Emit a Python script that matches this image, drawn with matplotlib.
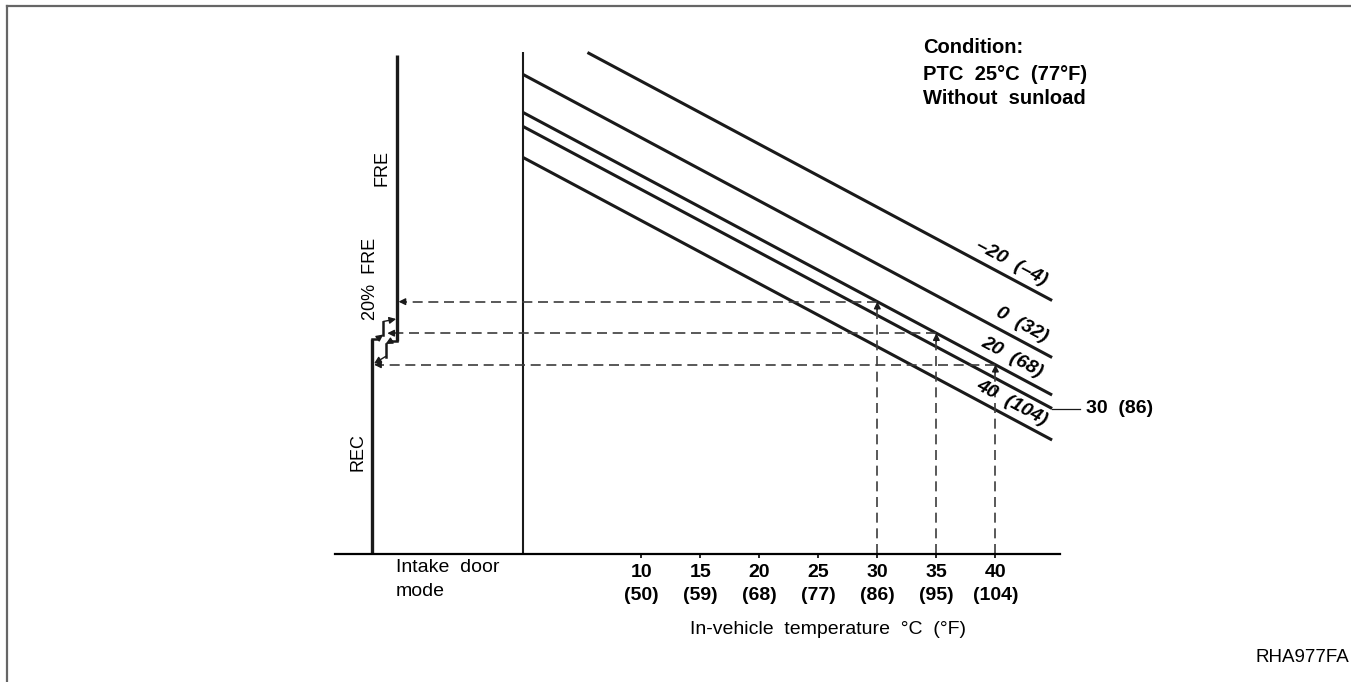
import numpy as np
import matplotlib
matplotlib.use("Agg")
import matplotlib.pyplot as plt
from matplotlib.lines import Line2D

plt.rcParams['font.family'] = ['Liberation Sans', 'DejaVu Sans']

# in-vehicle temperature ticks
tick_c = [10, 15, 20, 25, 30, 35, 40]
tick_f = [50, 59, 68, 77, 86, 95, 104]

# ambient temperature lines (start/end)
ambient_c = [-20, 0, 20, 30, 40]
ambient_f = [-4, 32, 68, 86, 104]
line_x0 = [5.45, 0, 0, 0, 0]
line_y0 = [100.3, 95.9, 88.3, 85.5, 79.3]
line_x1 = [44.8, 44.8, 44.8, 44.8, 44.8]
line_y1 = [50.7, 39.3, 31.8, 29.1, 22.8]

# worked example: ambient 20 C, in-vehicle 30 / 35 / 40 C
example_ambient = 20
example_incar = [30, 35, 40]
example_door_x = [-10.55, -11.5, -12.62]

# intake door mode levels
rec_x = -12.77
fre_x = -10.65
rec_top = 43.1
fre_bottom = 42.7
fre_top = 99.8
up_x = [-12.77, -12.3, -11.84, -11.84, -10.75]
up_y = [43.1, 43.1, 43.9, 46.5, 47.0]
down_x = [-10.65, -11.1, -11.65, -11.65, -12.62]
down_y = [42.7, 42.7, 42.0, 39.5, 38.1]

W, H = 1351, 682
fig = plt.figure(figsize=(W / 100, H / 100), dpi=100)

def fx(px):
    return px / W

def fy(py):
    return 1 - py / H

ax = fig.add_axes([fx(335), fy(554), fx(1060) - fx(335), fy(44) - fy(554)])
ax.set_xlim(-15.93, 45.47)
ax.set_ylim(0, 102)
for s in ['top', 'right', 'left']:
    ax.spines[s].set_visible(False)
ax.spines['bottom'].set_linewidth(1.6)
ax.set_yticks([])
ax.set_xticks(tick_c)
ax.set_xticklabels([f"{c}\n({f})" for c, f in zip(tick_c, tick_f)],
                   fontsize=14, fontweight='bold')
for t in ax.get_xticklabels():
    t.set_linespacing(1.45)
ax.tick_params(axis='x', direction='out', length=3, width=1.2, pad=4)

# 0 C vertical line
ax.plot([0, 0], [0, 100.5], color='#1a1a1a', lw=1.5, solid_capstyle='butt')

# ambient lines
for x0, y0, x1, y1 in zip(line_x0, line_y0, line_x1, line_y1):
    ax.plot([x0, x1], [y0, y1], color='#1a1a1a', lw=2.2, solid_capstyle='butt')

# labels on the lines
for c, f, x0, y0, x1, y1 in zip(ambient_c, ambient_f, line_x0, line_y0, line_x1, line_y1):
    if c == 30:
        ax.plot([x1, x1 + 2.4], [y1, y1], color='#1a1a1a', lw=0.9, clip_on=False)
        ax.annotate(f"{c}  ({f})", xy=(x1 + 2.4, y1), xytext=(4, 0), textcoords='offset points',
                    fontsize=14, fontweight='bold', ha='left', va='center', annotation_clip=False)
        continue
    lx = 41.4 if c != 0 else 42.2
    ly = np.interp(lx, [x0, x1], [y0, y1])
    txt = f"{c}  ({f})".replace('-', '\u2013')
    ax.annotate(txt, xy=(lx, ly), xytext=(0, 11.5), textcoords='offset points',
                fontsize=14, fontweight='bold', fontstyle='italic', rotation=-28.1,
                rotation_mode='anchor', ha='center', va='center', annotation_clip=False)

# example dashed lines with arrows
i20 = ambient_c.index(example_ambient)
dash = (0, (6, 3.4))
head = dict(arrowstyle='-|>', color='#1a1a1a', lw=1.0, mutation_scale=10, shrinkA=0, shrinkB=0)
for xc, xd in zip(example_incar, example_door_x):
    yc = np.interp(xc, [line_x0[i20], line_x1[i20]], [line_y0[i20], line_y1[i20]])
    ax.plot([xc, xc], [0, yc - 1.5], color='#3c3c3c', lw=1.2, linestyle=dash)
    ax.annotate('', xy=(xc, yc), xytext=(xc, yc - 1.6), arrowprops=head)
    ax.plot([xc, xd + 0.5], [yc, yc], color='#3c3c3c', lw=1.2, linestyle=dash)
    ax.annotate('', xy=(xd, yc), xytext=(xd + 0.55, yc), arrowprops=head)

# intake door mode line
ax.plot([rec_x, rec_x], [0, rec_top], color='#1a1a1a', lw=2.4, solid_capstyle='butt')
ax.plot([fre_x, fre_x], [fre_bottom, fre_top], color='#1a1a1a', lw=2.4, solid_capstyle='butt')
for px_, py_ in [(up_x, up_y), (down_x, down_y)]:
    ax.plot(px_[:2], py_[:2], color='#1a1a1a', lw=1.8)
    ax.plot(px_[2:4], py_[2:4], color='#1a1a1a', lw=1.8)
    ax.annotate('', xy=(px_[2], py_[2]), xytext=(px_[1], py_[1]), arrowprops=head)
    ax.annotate('', xy=(px_[4], py_[4]), xytext=(px_[3], py_[3]), arrowprops=head)

# texts
fig.text(fx(358), fy(452), "REC", rotation=90, fontsize=13, ha='center', va='center')
fig.text(fx(370.5), fy(278.5), "20%  FRE", rotation=90, fontsize=13, ha='center', va='center')
fig.text(fx(382.5), fy(167.5), "FRE", rotation=90, fontsize=13, ha='center', va='center')
fig.text(fx(396), fy(567), "Intake  door", fontsize=14, ha='left', va='center')
fig.text(fx(396), fy(591), "mode", fontsize=14, ha='left', va='center')
fig.text(fx(828), fy(630), "In-vehicle  temperature  \u00b0C  (\u00b0F)", fontsize=14,
         ha='center', va='center')
fig.text(fx(923), fy(47.5), "Condition:", fontsize=14.5, fontweight='bold', ha='left', va='center')
fig.text(fx(923), fy(74), "PTC  25\u00b0C  (77\u00b0F)", fontsize=14.5, fontweight='bold',
         ha='left', va='center')
fig.text(fx(923), fy(99), "Without  sunload", fontsize=14.5, fontweight='bold', ha='left', va='center')
fig.text(fx(1349), fy(657), "RHA977FA", fontsize=13.5, ha='right', va='center')

# frame
fig.add_artist(Line2D([fx(7), fx(7)], [0, fy(6)], color='#666666', lw=1.6))
fig.add_artist(Line2D([fx(7), 1], [fy(6), fy(6)], color='#666666', lw=1.6))

fig.savefig("out.png", dpi=100)
